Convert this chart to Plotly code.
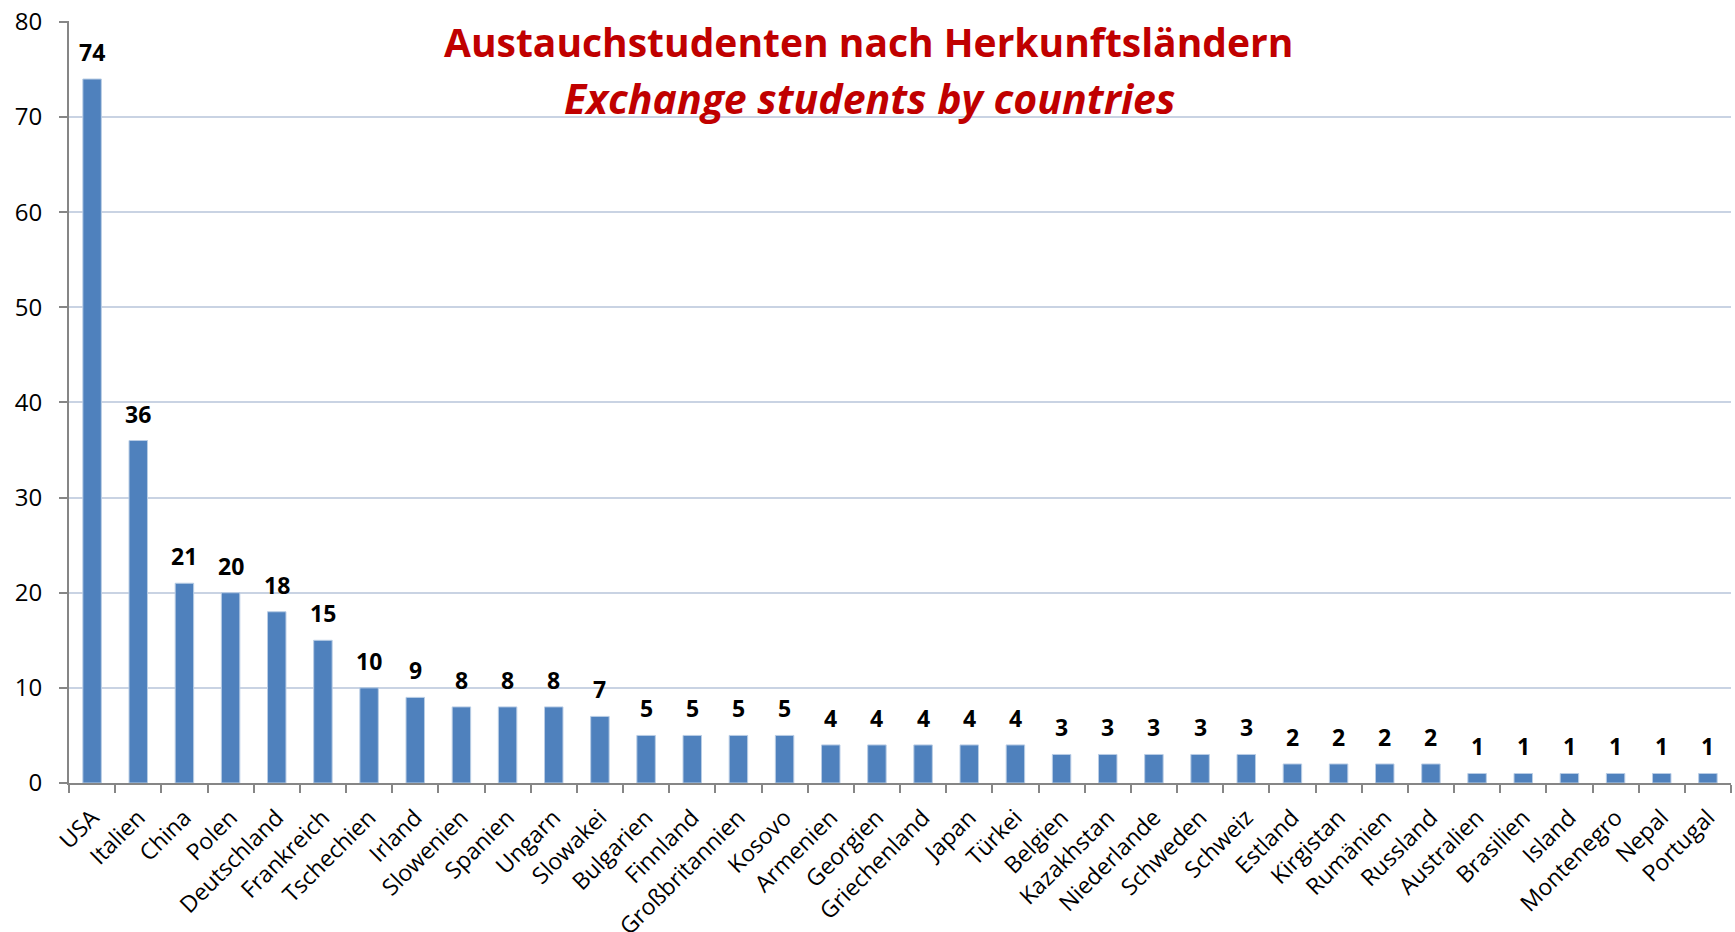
import plotly.graph_objects as go

# Herkunftsländer und Anzahl der Austauschstudenten
countries = ['USA', 'Italien', 'China', 'Polen', 'Deutschland', 'Frankreich', 'Tschechien',
             'Irland', 'Slowenien', 'Spanien', 'Ungarn', 'Slowakei', 'Bulgarien', 'Finnland',
             'Großbritannien', 'Kosovo', 'Armenien', 'Georgien', 'Griechenland', 'Japan',
             'Türkei', 'Belgien', 'Kazakhstan', 'Niederlande', 'Schweden', 'Schweiz',
             'Estland', 'Kirgistan', 'Rumänien', 'Russland', 'Australien', 'Brasilien',
             'Island', 'Montenegro', 'Nepal', 'Portugal']
students = [74, 36, 21, 20, 18, 15, 10, 9, 8, 8, 8, 7, 5, 5, 5, 5, 4, 4, 4, 4, 4,
            3, 3, 3, 3, 3, 2, 2, 2, 2, 1, 1, 1, 1, 1, 1]

title_de = 'Austauchstudenten nach Herkunftsländern'
title_en = 'Exchange students by countries'

fig = go.Figure(go.Bar(
    x=countries,
    y=students,
    marker=dict(color='#4F81BD', line=dict(color='#B9CDE5', width=1)),
    hoverinfo='x+y',
))

L, R, T, B = 69, 4, 21, 149
W, H = 1735, 932
plot_w = W - L - R
plot_h = H - T - B

fig.update_layout(
    width=W, height=H,
    margin=dict(l=L, r=R, t=T, b=B),
    paper_bgcolor='white',
    plot_bgcolor='white',
    bargap=0.6,
    showlegend=False,
    font=dict(family='Open Sans', color='black'),
)

# Datenbeschriftungen über den Balken
for c, v in zip(countries, students):
    fig.add_annotation(x=c, y=v, text=str(v), showarrow=False,
                       yanchor='middle', yshift=27,
                       font=dict(family='Open Sans', size=23, color='black', weight='bold'))

# Titel als zwei Annotationen
fig.add_annotation(text='<b>' + title_de + '</b>', xref='paper', yref='paper',
                   x=(868 - L) / plot_w, y=1 - (41 - T) / plot_h,
                   showarrow=False, xanchor='center', yanchor='middle',
                   font=dict(family='Open Sans', size=39, color='#C00000'))
fig.add_annotation(text='<b><i>' + title_en + '</i></b>', xref='paper', yref='paper',
                   x=(869 - L) / plot_w, y=1 - (98 - T) / plot_h,
                   showarrow=False, xanchor='center', yanchor='middle',
                   font=dict(family='Open Sans', size=41, color='#C00000'))

fig.update_xaxes(
    type='category',
    tickangle=-45,
    tickfont=dict(size=23),
    showline=True, linecolor='#868686', linewidth=2,
    ticks='outside', ticklen=8, tickcolor='#868686', tickwidth=2,
    tickson='boundaries',
    ticklabelstandoff=10,
    showgrid=False,
    automargin=False,
)
fig.update_yaxes(
    range=[0, 80.1],
    tickvals=[0, 10, 20, 30, 40, 50, 60, 70, 80],
    tickfont=dict(size=24),
    showline=True, linecolor='#868686', linewidth=2,
    ticks='outside', ticklen=8, tickcolor='#868686', tickwidth=2,
    gridcolor='#C9D3E3', gridwidth=2,
    zeroline=False,
    ticklabelstandoff=12,
    automargin=False,
)

# Seitenrand entfernen, damit die Grafik bei (0,0) beginnt
fig.write_html('out.html', config={'displayModeBar': False},
               post_script='document.body.style.margin = "0";')
